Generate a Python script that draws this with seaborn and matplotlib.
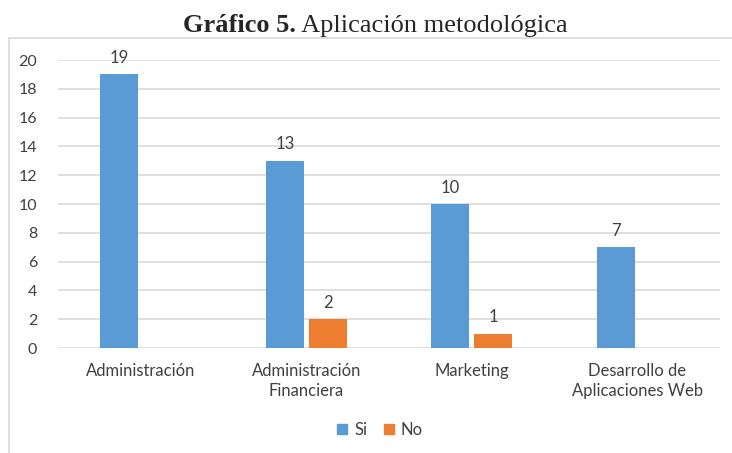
import matplotlib
matplotlib.use('Agg')
import matplotlib.pyplot as plt
import seaborn as sns
import pandas as pd
import numpy as np
from matplotlib.patches import Rectangle

# data
categories = ['Administración', 'Administración\nFinanciera', 'Marketing',
              'Desarrollo de\nAplicaciones Web']
si_values = [19, 13, 10, 7]
no_values = [0, 2, 1, 0]
series = ['Si', 'No']
colors = ['#5B9BD5', '#ED7D31']

df = pd.DataFrame({
    'categoria': categories * 2,
    'respuesta': ['Si'] * len(categories) + ['No'] * len(categories),
    'valor': si_values + no_values,
})

sns.set_style('white')
plt.rcParams['font.family'] = ['Lato', 'DejaVu Sans']
text_color = '#404040'

fig = plt.figure(figsize=(7.32, 4.53), dpi=100)
# chart frame (light grey border like the Excel chart area)
fig.patches.append(Rectangle((9 / 732, -0.05), 1.0, (453 - 38) / 453 + 0.05,
                             transform=fig.transFigure, fill=False,
                             edgecolor='#D9D9D9', linewidth=1.2))

ax = fig.add_axes([58 / 732, 105 / 453, 662 / 732, 288 / 453])
sns.barplot(data=df, x='categoria', y='valor', hue='respuesta',
            hue_order=series, palette=colors, width=0.52, gap=0.115,
            linewidth=0, saturation=1, ax=ax, legend=False)

ax.set_ylim(0, 20)
ax.set_xlim(-0.5, 3.5)
ax.set_yticks(range(0, 21, 2))
ax.yaxis.grid(True, color='#D9D9D9', linewidth=1.2)
ax.set_axisbelow(True)
for s in ax.spines.values():
    s.set_visible(False)
ax.set_xlabel('')
ax.set_ylabel('')
ax.tick_params(axis='y', length=0, pad=15, labelsize=11.5, labelcolor=text_color)
ax.tick_params(axis='x', length=0, pad=11, labelsize=12, labelcolor=text_color)
for lbl in ax.get_xticklabels():
    lbl.set_linespacing(1.25)

# value labels, only for non-zero bars
for cont in ax.containers:
    labels = [f'{int(v)}' if v > 0 else '' for v in cont.datavalues]
    ax.bar_label(cont, labels=labels, padding=6, fontsize=12, color=text_color)

handles = [Rectangle((0, 0), 1, 1, color=c) for c in colors]
fig.legend(handles, series, loc='center', bbox_to_anchor=(380 / 732, 1 - 430 / 453),
           ncol=2, frameon=False, fontsize=12, handlelength=0.6, handleheight=0.6,
           handletextpad=0.4, columnspacing=1.0, labelcolor=text_color)

# title with bold prefix
fig.canvas.draw()
renderer = fig.canvas.get_renderer()
t1 = fig.text(0, 0, 'Gráfico 5.', family='Liberation Serif', weight='bold', fontsize=19)
t2 = fig.text(0, 0, ' Aplicación metodológica', family='Liberation Serif', fontsize=19)
w1 = t1.get_window_extent(renderer).width
w2 = t2.get_window_extent(renderer).width
x0 = 375 - (w1 + w2) / 2
ybase = 453 - 32
t1.set_position((x0 / 732, ybase / 453))
t2.set_position(((x0 + w1) / 732, ybase / 453))

fig.savefig('out.png', dpi=100)
